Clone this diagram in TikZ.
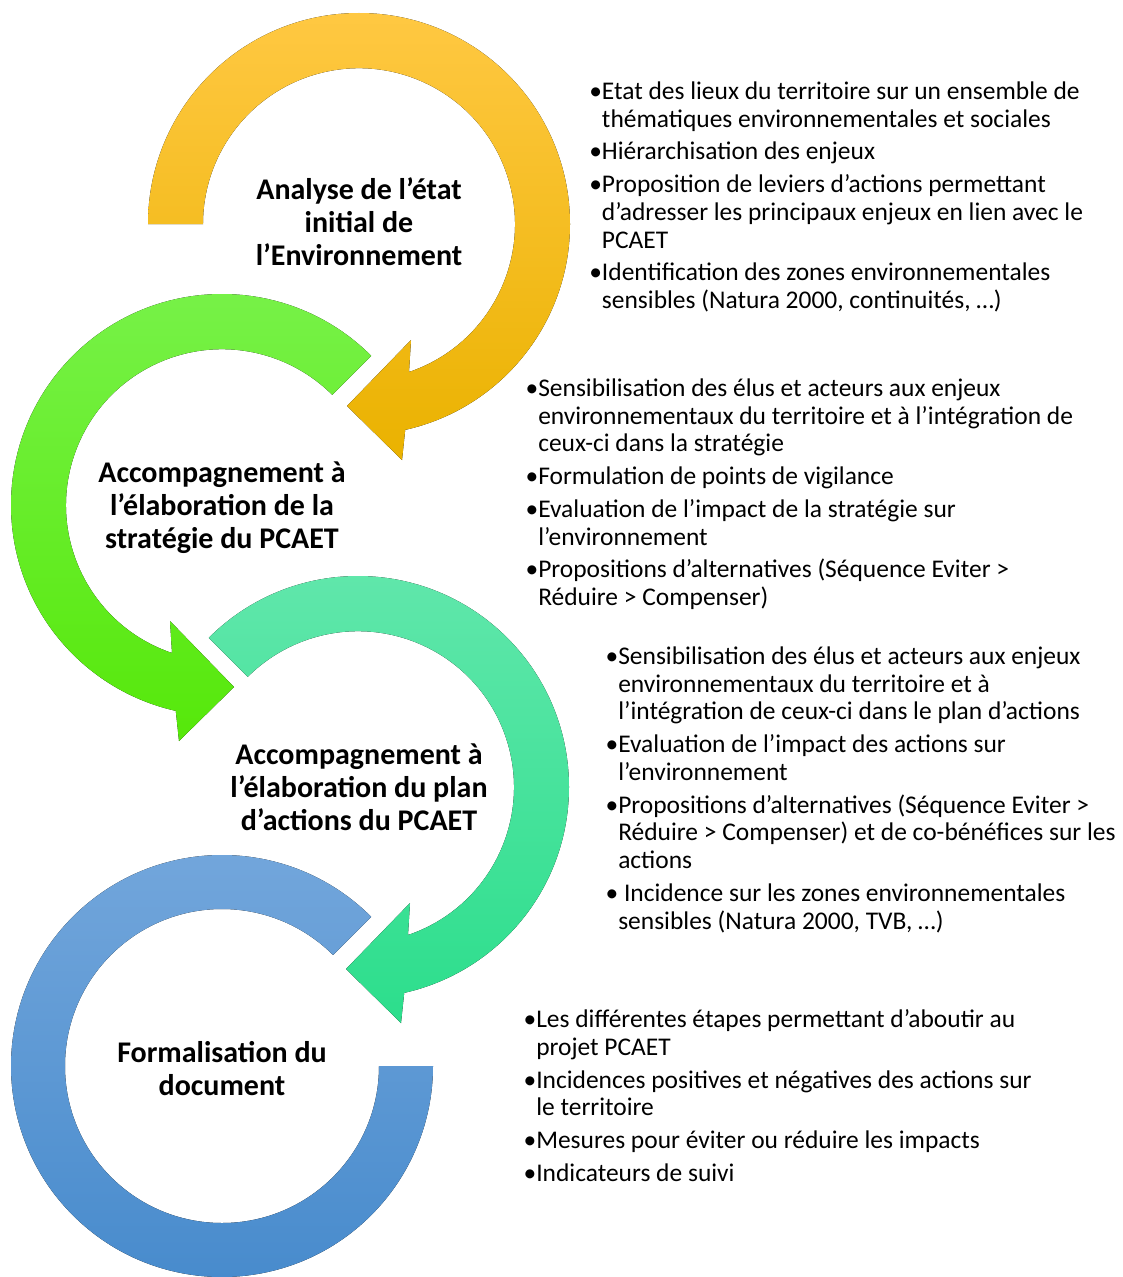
\documentclass[tikz,border=0pt]{standalone}
\usepackage{fontspec}
\setmainfont{Carlito}
\usepackage{tikz}

\definecolor{orangeTop}{RGB}{255,200,66}
\definecolor{orangeBot}{RGB}{234,178,0}
\definecolor{greenTop}{RGB}{120,242,74}
\definecolor{greenBot}{RGB}{86,232,10}
\definecolor{tealTop}{RGB}{98,231,172}
\definecolor{tealBot}{RGB}{44,222,140}
\definecolor{blueTop}{RGB}{116,167,220}
\definecolor{blueBot}{RGB}{70,138,204}

\tikzset{
  stage/.style={anchor=center, inner sep=0pt, align=center, font=\fontsize{22.5}{24.75}\selectfont\bfseries},
  notes/.style={anchor=north west, inner sep=0pt, align=left, font=\fontsize{19.1}{20.8}\selectfont},
}
\newcommand{\bul}{\llap{\textbullet}}

\begin{document}
\begin{tikzpicture}[x=0.75pt,y=0.75pt,yscale=-1,xscale=1]
\useasboundingbox (0,0) rectangle (1122,1277);

%Shape: Circular Arrow [orange]
\coordinate (cA) at (359,224);
\begin{scope}[shift={(359,224)}]
\fill [top color=orangeTop, bottom color=orangeBot] (180:156) -- (180:211) arc[start angle=180, end angle=437.35, radius=211] -- (43,236) -- (-12,182) -- (52,116) -- (50,148) arc[start angle=431.3, end angle=180, radius=156] -- cycle;
\end{scope}
%Shape: Circular Arrow [green]
\coordinate (cB) at (222,505);
\begin{scope}[shift={(222,505)}]
\fill [top color=greenTop, bottom color=greenBot] (-45:156) -- (-45:211) arc[start angle=-45, end angle=-257.35, radius=211] -- (-43,236) -- (12,182) -- (-52,116) -- (-50,148) arc[start angle=-251.3, end angle=-45, radius=156] -- cycle;
\end{scope}
%Shape: Circular Arrow [teal]
\coordinate (cC) at (358,787);
\begin{scope}[shift={(358,787)}]
\fill [top color=tealTop, bottom color=tealBot] (225:156) -- (225:211) arc[start angle=225, end angle=437.35, radius=211] -- (43,236) -- (-12,182) -- (52,116) -- (50,148) arc[start angle=431.3, end angle=225, radius=156] -- cycle;
\end{scope}
%Shape: Circular Arrow [blue]
\coordinate (cD) at (222,1066);
\begin{scope}[shift={(222,1066)}]
\fill [top color=blueTop, bottom color=blueBot] (-45:157) -- (-45:211) arc[start angle=-45, end angle=-360, radius=211] -- (0:157) arc[start angle=-360, end angle=-45, radius=157] -- cycle;
\end{scope}

% Text Node
\draw (359,221.5) node (stageA) [stage] {Analyse de l’état\\initial de\\l’Environnement};
% Text Node
\draw (222,507.3) node (stageB) [stage] {Accompagnement à\\l’élaboration de la\\stratégie du PCAET};
% Text Node
\draw (359,787.5) node (stageC) [stage] {Accompagnement à\\l’élaboration du plan\\d’actions du PCAET};
% Text Node
\draw (222,1069) node (stageD) [stage] {Formalisation du\\document};

% Text Node
\draw (601.7,81.5) node (notesA) [notes] {\bul Etat des lieux du territoire sur un ensemble de\\
thématiques environnementales et sociales\\[3.75pt]
\bul Hiérarchisation des enjeux\\[3.75pt]
\bul Proposition de leviers d’actions permettant\\
d’adresser les principaux enjeux en lien avec le\\
PCAET\\[3.75pt]
\bul Identification des zones environnementales\\
sensibles (Natura 2000, continuités, …)};
% Text Node
\draw (538,378.5) node (notesB) [notes] {\bul Sensibilisation des élus et acteurs aux enjeux\\
environnementaux du territoire et à l’intégration de\\
ceux-ci dans la stratégie\\[3.75pt]
\bul Formulation de points de vigilance\\[3.75pt]
\bul Evaluation de l’impact de la stratégie sur\\
l’environnement\\[3.75pt]
\bul Propositions d’alternatives (Séquence Eviter >\\
Réduire > Compenser)};
% Text Node
\draw (618,646.5) node (notesC) [notes] {\bul Sensibilisation des élus et acteurs aux enjeux\\
environnementaux du territoire et à\\
l’intégration de ceux-ci dans le plan d’actions\\[3.75pt]
\bul Evaluation de l’impact des actions sur\\
l’environnement\\[3.75pt]
\bul Propositions d’alternatives (Séquence Eviter >\\
Réduire > Compenser) et de co-bénéfices sur les\\
actions\\[3.75pt]
\bul\ Incidence sur les zones environnementales\\
sensibles (Natura 2000, TVB, …)};
% Text Node
\draw (536,1009.5) node (notesD) [notes] {\bul Les différentes étapes permettant d’aboutir au\\
projet PCAET\\[3.75pt]
\bul Incidences positives et négatives des actions sur\\
le territoire\\[3.75pt]
\bul Mesures pour éviter ou réduire les impacts\\[3.75pt]
\bul Indicateurs de suivi};

\end{tikzpicture}
\end{document}
